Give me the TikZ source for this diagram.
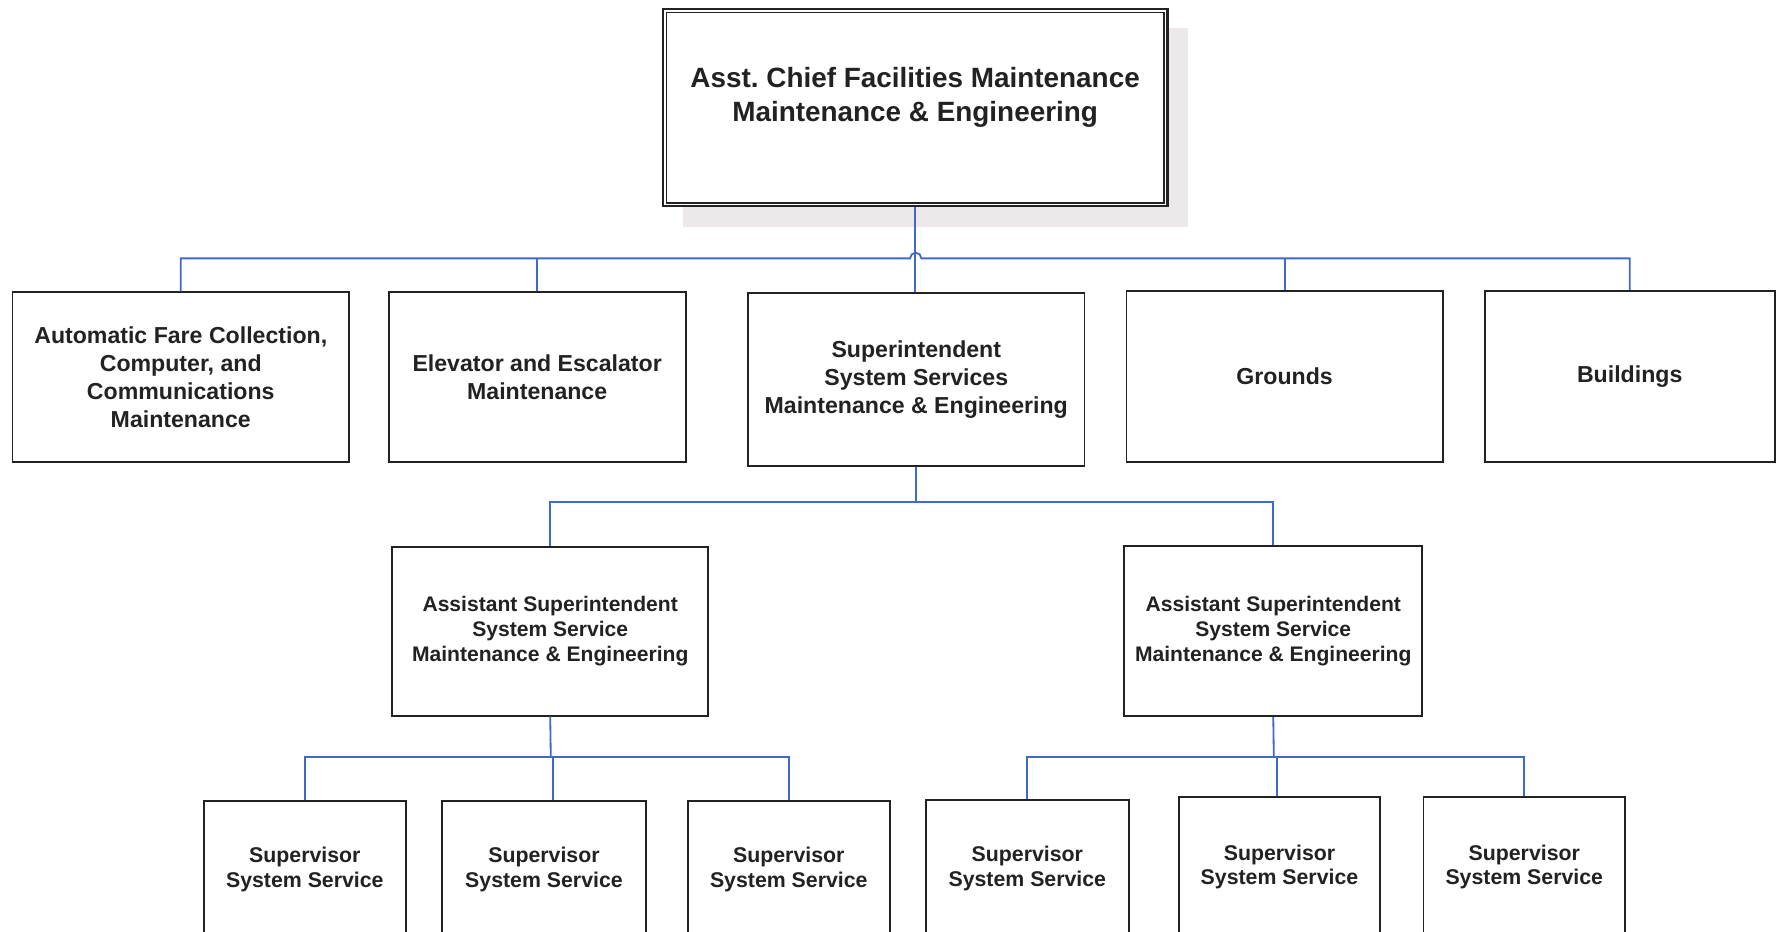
\documentclass[tikz,border=0pt]{standalone}
\usepackage{fontspec}
\setmainfont{Liberation Sans}
\usetikzlibrary{calc}
\frenchspacing
\definecolor{linkc}{HTML}{4169C8}
\definecolor{ink}{HTML}{222222}
\definecolor{shadowc}{HTML}{EDE8EA}
\tikzset{
  boxn/.style={draw=ink, line width=0.8pt, fill=white, rectangle, inner sep=0pt, align=center, text=ink,
    font=\bfseries\fontsize{10.2}{12.3}\selectfont},
  midbox/.style={boxn, font=\bfseries\fontsize{9.3}{11}\selectfont},
  supbox/.style={boxn, font=\bfseries\fontsize{9.4}{11}\selectfont},
  topbox/.style={draw=ink, line width=1.1pt, fill=white, rectangle, inner sep=0pt},
  toptext/.style={align=center, text=ink, inner sep=0pt, font=\bfseries\fontsize{12.3}{15}\selectfont},
  link/.style={draw=linkc, line width=0.8pt}
}
\begin{document}
\begin{tikzpicture}[x=0.5pt,y=-0.5pt]
\useasboundingbox (0,0) rectangle (1568,822);
\clip (0,0) rectangle (1568,822);
\fill[white] (0,0) rectangle (1568,822);
% top box with shadow and double border
\fill[shadowc] (603,25) rectangle (1048,200);
\node[topbox, minimum width=222.5pt, minimum height=87pt] (top) at (807.5,95) {};
\draw[ink, line width=0.5pt] ([shift={(4,4)}]top.north west) rectangle ([shift={(-4,-4)}]top.south east);
\node[toptext] (toptxt) at (807.5,86) {Asst.\ Chief Facilities Maintenance\\Maintenance \& Engineering};
% level 2
\node[boxn, minimum width=148.5pt, minimum height=75pt] (afc) at (159.5,333) {Automatic Fare Collection,\\Computer, and\\Communications\\Maintenance};
\node[boxn, minimum width=131pt, minimum height=75pt] (ee) at (474,333) {Elevator and Escalator\\Maintenance};
\node[boxn, minimum width=148.5pt, minimum height=76.5pt] (sup) at (808.5,335) {Superintendent\\System Services\\Maintenance \& Engineering};
\node[boxn, minimum width=139.5pt, minimum height=75.5pt] (grd) at (1133.5,332) {Grounds};
\node[boxn, minimum width=128pt, minimum height=75.5pt] (bld) at (1438,332) {Buildings};
% level 3
\node[midbox, minimum width=139.5pt, minimum height=74.5pt] (asl) at (485.5,557) {Assistant Superintendent\\System Service\\Maintenance \& Engineering};
\node[midbox, minimum width=131.5pt, minimum height=75pt] (asr) at (1123.5,557) {Assistant Superintendent\\System Service\\Maintenance \& Engineering};
% level 4
\node[supbox, minimum width=89pt, minimum height=60pt] (s1) at (269,767) {Supervisor\\System Service};
\node[supbox, minimum width=90pt, minimum height=60pt] (s2) at (480,767) {Supervisor\\System Service};
\node[supbox, minimum width=89pt, minimum height=60pt] (s3) at (696,767) {Supervisor\\System Service};
\node[supbox, minimum width=89.5pt, minimum height=60pt] (s4) at (906.5,766) {Supervisor\\System Service};
\node[supbox, minimum width=89pt, minimum height=62pt] (s5) at (1129,765) {Supervisor\\System Service};
\node[supbox, minimum width=89pt, minimum height=62pt] (s6) at (1345,765) {Supervisor\\System Service};
% connectors level 1-2
\coordinate (hopL) at (803,228);
\draw[link] (afc.north) |- (hopL) arc[start angle=180, end angle=0, radius=2.5pt] -| (bld.north);
\draw[link] (top.south) -- (top.south |- sup.north);
\draw[link] (ee.north) -- (ee.north |- hopL);
\draw[link] (grd.north) -- (grd.north |- hopL);
% level 2-3
\coordinate (j3) at (808.5,443);
\draw[link] (asl.north) |- (j3) -| (asr.north);
\draw[link] (sup.south) -- (j3);
% level 3-4 left
\coordinate (j4l) at (486,668);
\coordinate (j4lm) at (488,668);
\draw[link] (s1.north) |- (j4l) -| (s3.north);
\draw[link] (asl.south) -- (j4l);
\draw[link] (j4lm) -- (j4lm |- s2.north);
% level 3-4 right
\coordinate (j4r) at (1124,668);
\coordinate (j4rm) at (1127,668);
\draw[link] (s4.north) |- (j4r) -| (s6.north);
\draw[link] (asr.south) -- (j4r);
\draw[link] (j4rm) -- (j4rm |- s5.north);
\end{tikzpicture}
\end{document}
